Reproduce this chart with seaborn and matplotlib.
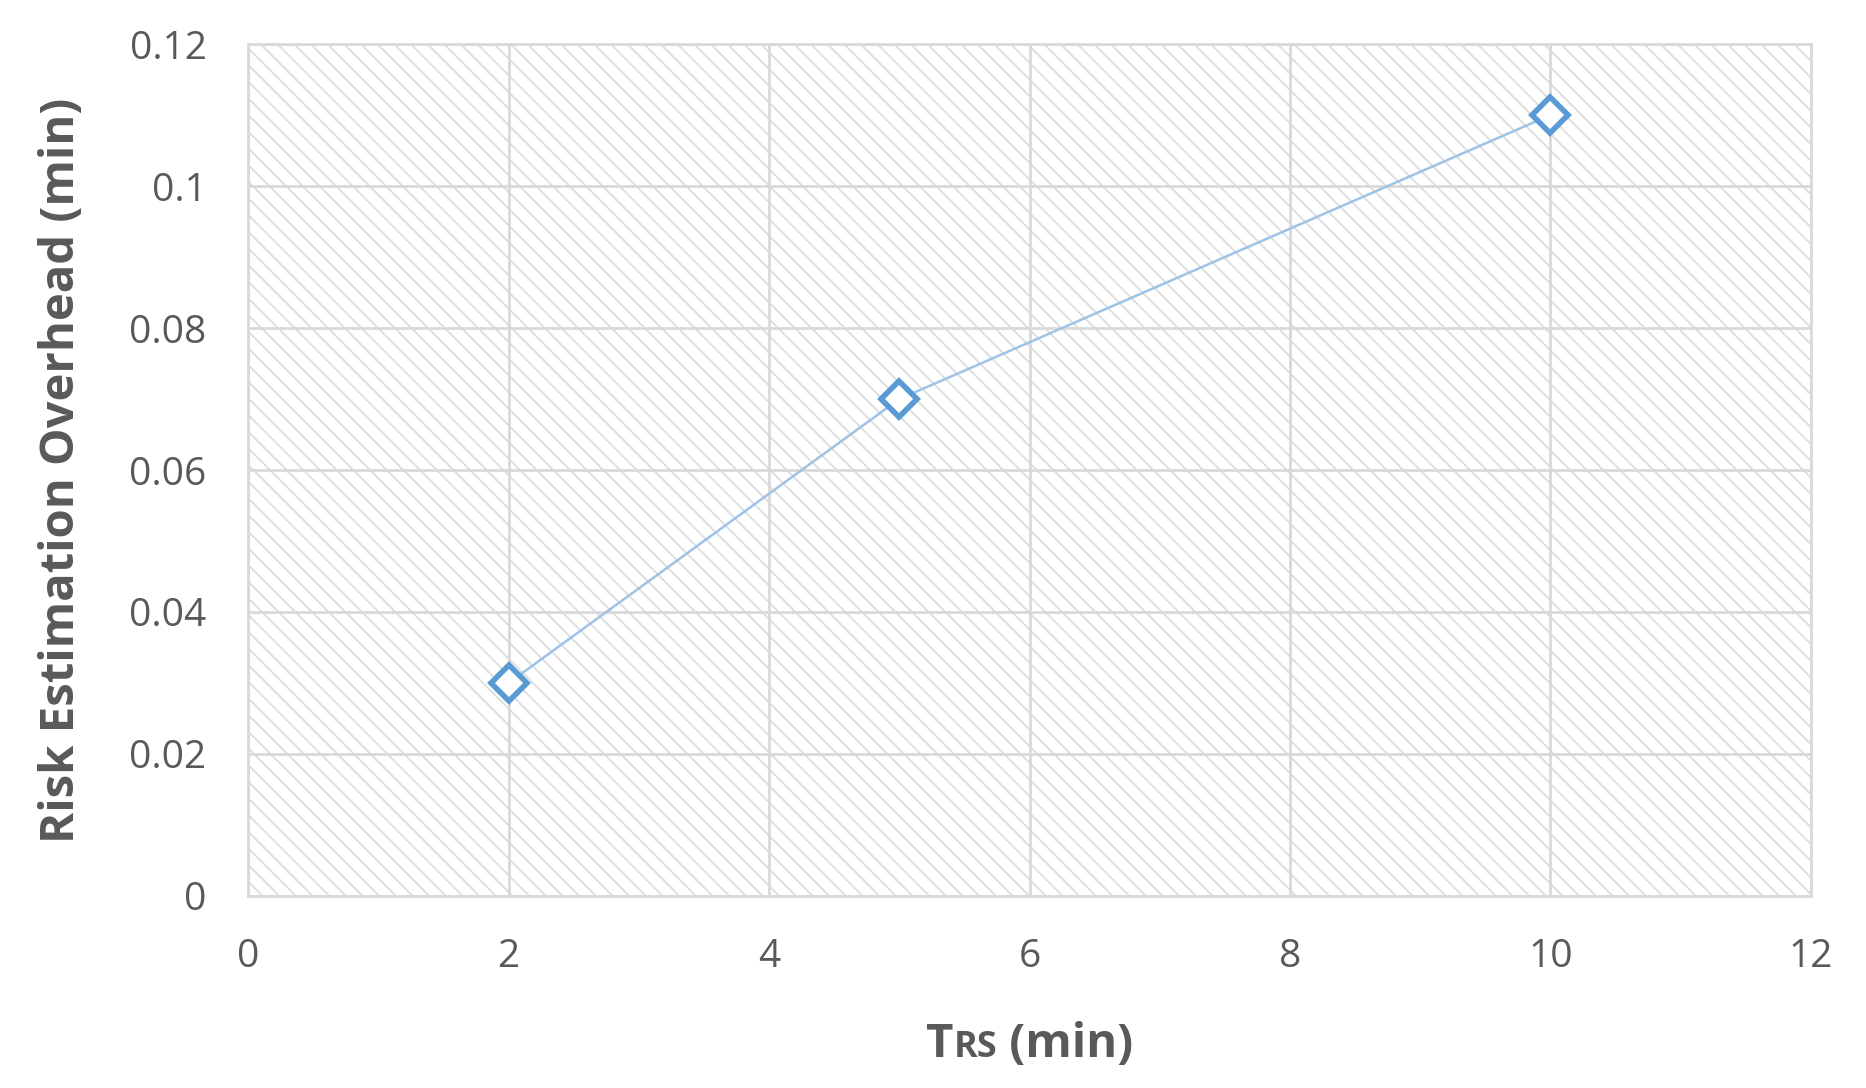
import matplotlib
matplotlib.use("Agg")
import matplotlib.pyplot as plt
from matplotlib.offsetbox import TextArea, HPacker, AnchoredOffsetbox
import seaborn as sns
import pandas as pd

# Daten
trs_min = [2, 5, 10]
overhead_min = [0.03, 0.07, 0.11]
x_ticks = [0, 2, 4, 6, 8, 10, 12]
y_ticks = [0, 0.02, 0.04, 0.06, 0.08, 0.1, 0.12]
y_tick_labels = ["0", "0.02", "0.04", "0.06", "0.08", "0.1", "0.12"]

df = pd.DataFrame({"trs": trs_min, "overhead": overhead_min})

sns.set_style("white")
plt.rcParams["font.family"] = ["Open Sans", "DejaVu Sans"]
plt.rcParams["hatch.color"] = "#dadada"
plt.rcParams["hatch.linewidth"] = 1.2

grey = "#595959"
fig = plt.figure(figsize=(18.66, 10.88), dpi=100)
ax = fig.add_axes([0.133, 0.1765, 0.8375, 0.783])

# schraffierter Hintergrund
ax.patch.set_facecolor("white")
ax.patch.set_hatch("\\\\")
ax.patch.set_edgecolor("#dadada")

sns.lineplot(data=df, x="trs", y="overhead", ax=ax, color="#9dc3e6", linewidth=1.8,
             marker="D", markersize=18, markerfacecolor="white",
             markeredgecolor="#5b9bd5", markeredgewidth=4, zorder=5)

ax.set_xlim(0, 12)
ax.set_ylim(0, 0.12)
ax.set_xticks(x_ticks)
ax.set_yticks(y_ticks)
ax.set_yticklabels(y_tick_labels)
ax.grid(True, color="#d9d9d9", linewidth=2)
ax.set_axisbelow(True)
for s in ax.spines.values():
    s.set_color("#d9d9d9")
    s.set_linewidth(2)
ax.tick_params(axis="both", length=0, labelsize=28, labelcolor=grey)
ax.tick_params(axis="y", pad=30)
ax.tick_params(axis="x", pad=30)

ax.set_ylabel("Risk Estimation Overhead (min)", fontsize=34, fontweight="bold",
              color=grey, labelpad=32)
ax.set_xlabel("")

# x-Beschriftung mit kleinerem "RS"
parts = [TextArea("T", textprops=dict(fontsize=34, fontweight="bold", color=grey)),
         TextArea("RS", textprops=dict(fontsize=26, fontweight="bold", color=grey)),
         TextArea(" (min)", textprops=dict(fontsize=34, fontweight="bold", color=grey))]
box = HPacker(children=parts, align="baseline", pad=0, sep=0)
anchored = AnchoredOffsetbox(loc="upper center", child=box, frameon=False,
                             bbox_to_anchor=(0.5, -0.14), bbox_transform=ax.transAxes,
                             borderpad=0)
ax.add_artist(anchored)

plt.savefig("out.png", dpi=100)
plt.close()
